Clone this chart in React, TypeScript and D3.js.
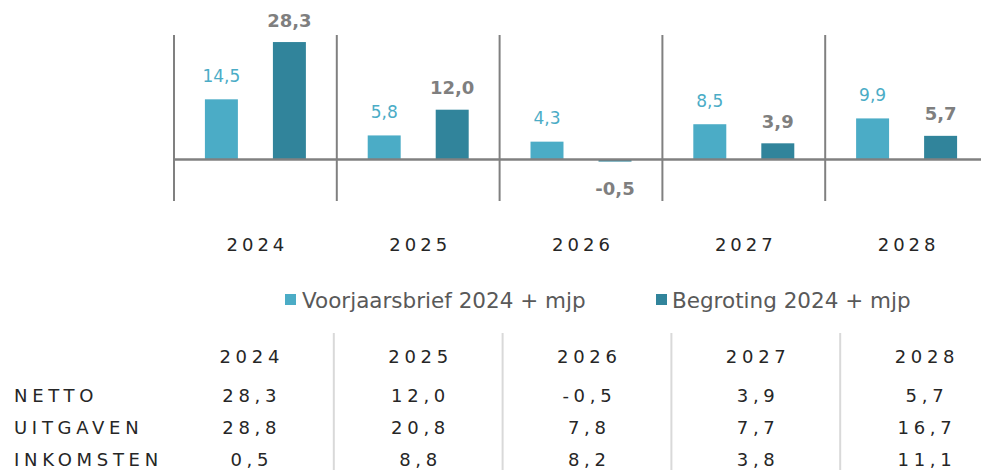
import React from "react";
import * as d3 from "d3";

const years = ["2024", "2025", "2026", "2027", "2028"];
const seriesNames = ["Voorjaarsbrief 2024 + mjp", "Begroting 2024 + mjp"];
const voorjaarsbrief = [14.5, 5.8, 4.3, 8.5, 9.9];
const begroting = [28.3, 12.0, -0.5, 3.9, 5.7];
const rowLabels = ["NETTO", "UITGAVEN", "INKOMSTEN"];
const netto = [28.3, 12.0, -0.5, 3.9, 5.7];
const uitgaven = [28.8, 20.8, 7.8, 7.7, 16.7];
const inkomsten = [0.5, 8.8, 8.2, 3.8, 11.1];

const W = 981;
const H = 470;
const LIGHT = "#4BACC6";
const DARK = "#31849B";
const FONT = "'DejaVu Sans', Verdana, sans-serif";
const fmt = (v: number) => v.toFixed(1).replace(".", ",");

export default function App() {
  const x = d3.scaleBand<string>().domain(years).range([174, 988]).padding(0);
  const inner = d3
    .scaleBand<string>()
    .domain(seriesNames)
    .range([0, x.bandwidth()])
    .paddingInner(0.515)
    .paddingOuter(0.4545);
  const y = d3.scaleLinear().domain([-10, 30]).range([201, 35]);
  const y0 = y(0);

  const series = [
    { name: seriesNames[0], values: voorjaarsbrief, color: LIGHT },
    { name: seriesNames[1], values: begroting, color: DARK },
  ];

  const tx = d3.scaleBand<string>().domain(years).range([165, 1009]).padding(0);
  const rows = [netto, uitgaven, inkomsten];
  const rowBase = [402, 434, 466];
  const ls = 4.7;

  const legendItems = [
    { name: seriesNames[0], color: LIGHT, sx: 285, tx: 302 },
    { name: seriesNames[1], color: DARK, sx: 656, tx: 672 },
  ];

  return (
    <svg
      width={W}
      height={H}
      style={{ position: "absolute", left: 0, top: 0, background: "#fff" }}
      fontFamily={FONT}
    >
      {/* bars */}
      {series.map((s) =>
        s.values.map((v, i) => {
          const bx = x(years[i])! + inner(s.name)!;
          const top = Math.min(y(v), y0);
          const h = Math.abs(y(v) - y0);
          return (
            <rect
              key={s.name + i}
              x={bx}
              y={top}
              width={inner.bandwidth()}
              height={h}
              fill={s.color}
            />
          );
        })
      )}

      {/* category dividers */}
      {years.map((yr) => (
        <line
          key={"d" + yr}
          x1={x(yr)!}
          x2={x(yr)!}
          y1={y(30)}
          y2={y(-10)}
          stroke="#808080"
          strokeWidth={2}
        />
      ))}
      <line x1={174} x2={W} y1={y0} y2={y0} stroke="#808080" strokeWidth={2.5} />

      {/* bar labels */}
      {series.map((s, si) =>
        s.values.map((v, i) => {
          const cx = x(years[i])! + inner(s.name)! + inner.bandwidth() / 2;
          const ly = v >= 0 ? y(v) - (si === 0 ? 17.5 : 15.5) : y(v) + 33;
          return (
            <text
              key={"l" + s.name + i}
              x={cx}
              y={ly}
              textAnchor="middle"
              fontSize={si === 0 ? 17 : 18}
              fontWeight={si === 0 ? "normal" : "bold"}
              fill={si === 0 ? LIGHT : "#7F7F7F"}
            >
              {fmt(v)}
            </text>
          );
        })
      )}

      {/* x axis labels */}
      {years.map((yr) => (
        <text
          key={"x" + yr}
          x={x(yr)! + x.bandwidth() / 2 + 2}
          y={251}
          textAnchor="middle"
          fontSize={18}
          letterSpacing={4}
          fill="#262626"
        >
          {yr}
        </text>
      ))}

      {/* legend */}
      {legendItems.map((it) => (
        <g key={"lg" + it.name}>
          <rect x={it.sx} y={294} width={11} height={11} fill={it.color} />
          <text x={it.tx} y={308} fontSize={21.5} fill="#595959">
            {it.name}
          </text>
        </g>
      ))}

      {/* table */}
      {years.slice(1).map((yr) => (
        <line
          key={"td" + yr}
          x1={tx(yr)!}
          x2={tx(yr)!}
          y1={333}
          y2={H}
          stroke="#D9D9D9"
          strokeWidth={2}
        />
      ))}
      {years.map((yr) => (
        <text
          key={"th" + yr}
          x={tx(yr)! + tx.bandwidth() / 2 + ls / 2}
          y={363}
          textAnchor="middle"
          fontSize={18}
          letterSpacing={ls}
          fill="#262626"
        >
          {yr}
        </text>
      ))}
      {rowLabels.map((lab, ri) => (
        <text
          key={"rl" + lab}
          x={14}
          y={rowBase[ri]}
          fontSize={18}
          letterSpacing={ls}
          fill="#262626"
        >
          {lab}
        </text>
      ))}
      {rows.map((vals, ri) =>
        vals.map((v, i) => (
          <text
            key={"c" + ri + "-" + i}
            x={tx(years[i])! + tx.bandwidth() / 2 + ls / 2}
            y={rowBase[ri]}
            textAnchor="middle"
            fontSize={18}
            letterSpacing={ls}
            fill="#262626"
          >
            {fmt(v)}
          </text>
        ))
      )}
    </svg>
  );
}
